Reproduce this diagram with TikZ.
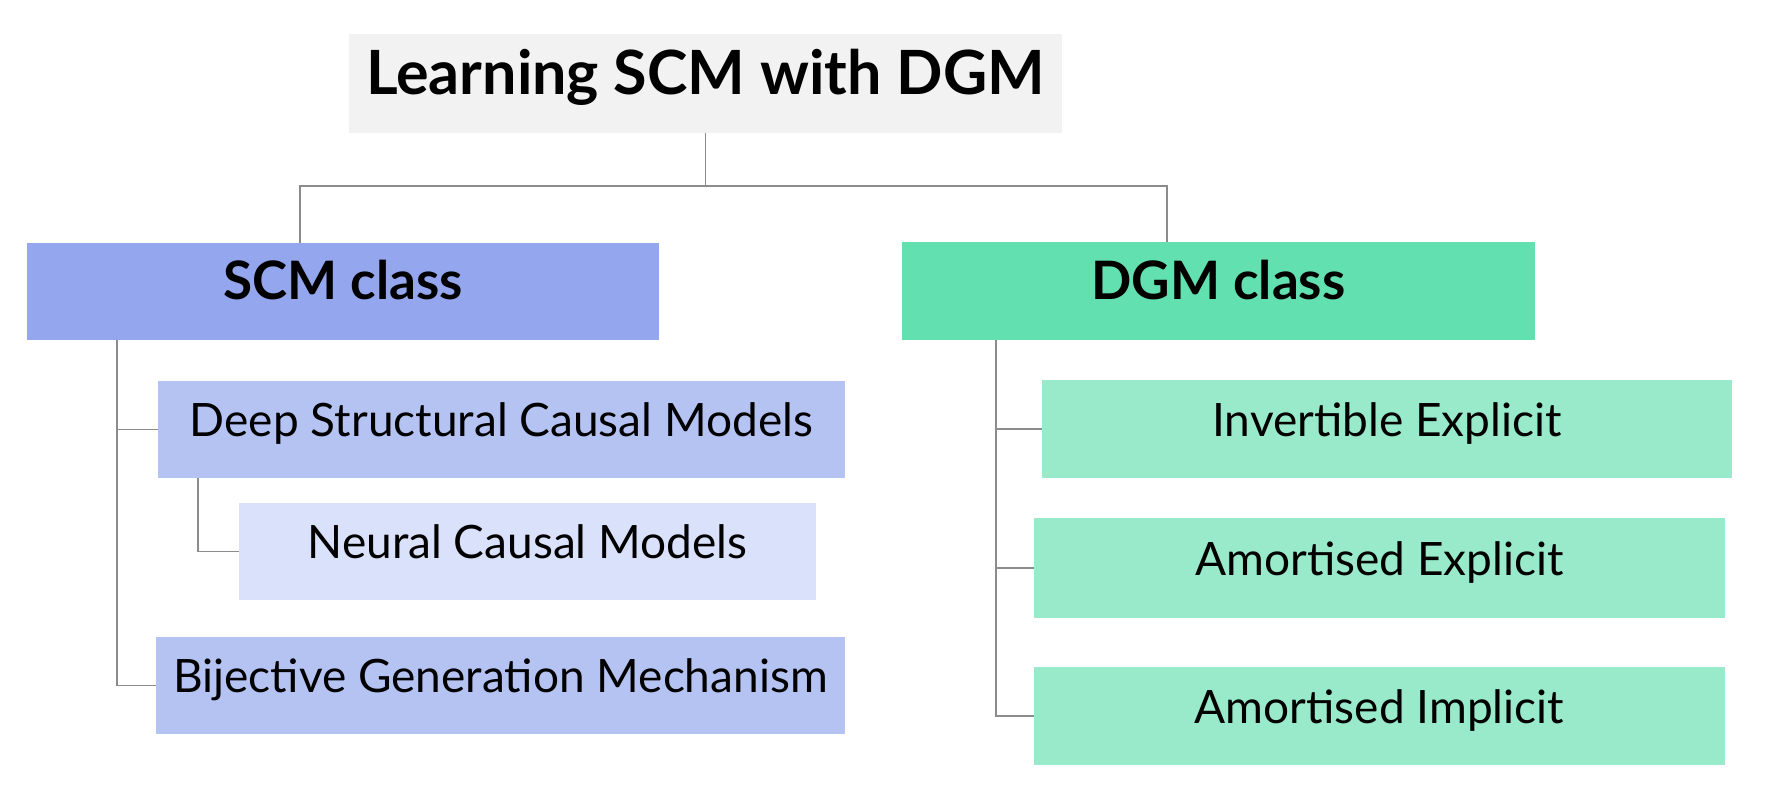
\documentclass[tikz,border=0pt]{standalone}
\usepackage{fontspec}
\setmainfont{Lato}
\definecolor{titlebg}{RGB}{242,242,242}
\definecolor{scmmain}{RGB}{147,166,238}
\definecolor{scmsub}{RGB}{181,195,243}
\definecolor{scmsubsub}{RGB}{218,225,250}
\definecolor{dgmmain}{RGB}{98,224,176}
\definecolor{dgmsub}{RGB}{152,234,202}
\definecolor{linkgray}{RGB}{140,140,140}
\begin{document}
\begin{tikzpicture}[x=1pt,y=-1pt,
  box/.style={rectangle, inner sep=0pt, outer sep=0pt, text=black},
  titlebox/.style={box, fill=titlebg, font=\fontsize{61}{70}\selectfont\bfseries, text height=44pt, text depth=22pt},
  classbox/.style={box, font=\fontsize{53}{62}\selectfont\bfseries, text height=40pt, text depth=23pt},
  subbox/.style={box, font=\fontsize{46}{54}\selectfont, text height=34pt, text depth=20pt},
  link/.style={draw=linkgray, line width=1.3pt}]
\useasboundingbox (0,0) rectangle (1767,802);
\node[titlebox, minimum width=713pt, minimum height=99pt] (title) at (705.5,83.5) {Learning SCM with DGM};
\node[classbox, fill=scmmain, minimum width=632pt, minimum height=97pt] (scm) at (343,291.5) {SCM class};
\node[classbox, fill=dgmmain, minimum width=633pt, minimum height=98pt] (dgm) at (1218.5,291) {DGM class};
\node[subbox, fill=scmsub, minimum width=687pt, minimum height=97pt] (dscm) at (501.5,429.5) {Deep Structural Causal Models};
\node[subbox, fill=scmsubsub, minimum width=577pt, minimum height=97pt] (ncm) at (527.5,551.5) {Neural Causal Models};
\node[subbox, fill=scmsub, minimum width=689pt, minimum height=97pt] (bgm) at (500.5,685.5) {Bijective Generation Mechanism};
\node[subbox, fill=dgmsub, minimum width=690pt, minimum height=98pt] (ie) at (1387,429) {Invertible Explicit};
\node[subbox, fill=dgmsub, minimum width=691pt, minimum height=100pt] (ae) at (1379.5,568) {Amortised Explicit};
\node[subbox, fill=dgmsub, minimum width=691pt, minimum height=98pt] (ai) at (1379.5,716) {Amortised Implicit};
\coordinate (bar) at (0,186);
\coordinate (scmtop) at ([xshift=-43pt]scm.north);
\coordinate (dgmtop) at ([xshift=-51.5pt]dgm.north);
\draw[link] (title.south) -- (title.south |- bar);
\draw[link] (scmtop) |- (dgmtop |- bar) -- (dgmtop);
\coordinate (scmleg) at ([xshift=90pt]scm.south west);
\draw[link] (scmleg) |- (bgm.west);
\draw[link] (scmleg |- dscm.west) -- (dscm.west);
\coordinate (dscmleg) at ([xshift=40pt]dscm.south west);
\draw[link] (dscmleg) |- (ncm.west);
\coordinate (dgmleg) at ([xshift=94pt]dgm.south west);
\draw[link] (dgmleg) |- (ai.west);
\draw[link] (dgmleg |- ie.west) -- (ie.west);
\draw[link] (dgmleg |- ae.west) -- (ae.west);
\end{tikzpicture}
\end{document}
